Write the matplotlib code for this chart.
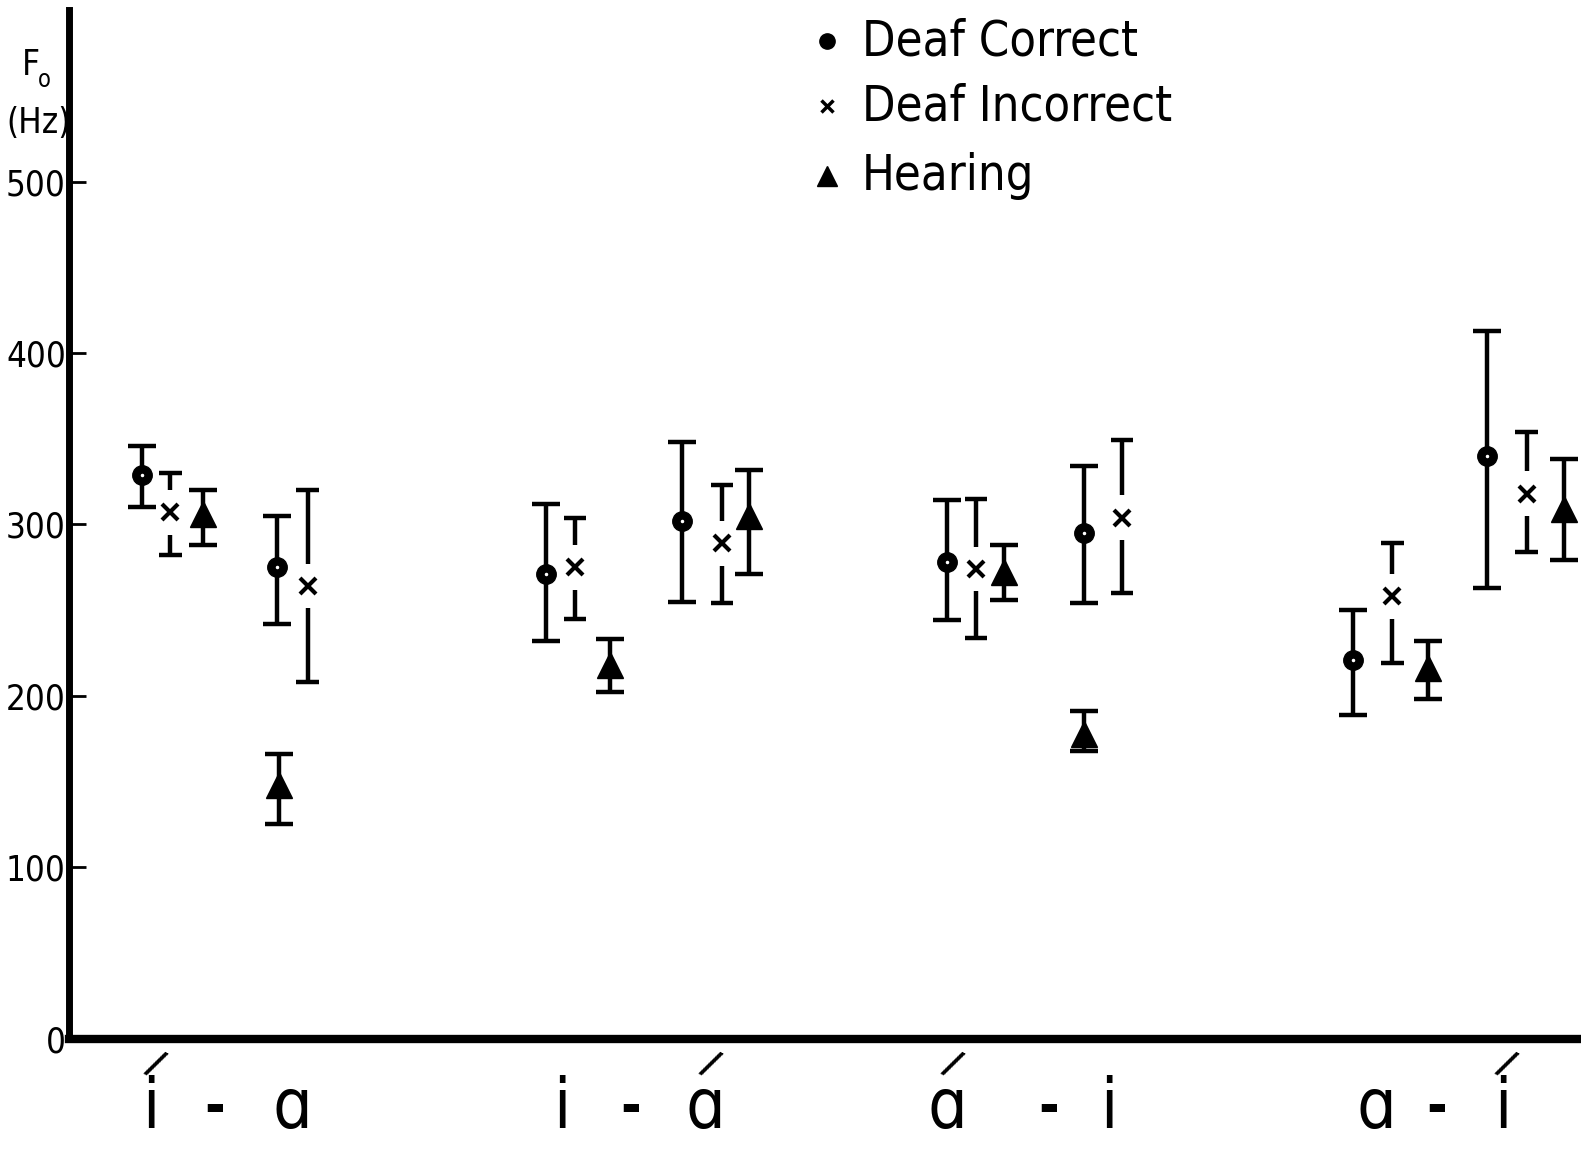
import numpy as np
import matplotlib
matplotlib.use('Agg')
import matplotlib.pyplot as plt

# F0 (Hz) per condition: 4 stress patterns x 2 vowels, three groups each
groups = ['Deaf Correct', 'Deaf Incorrect', 'Hearing']
conditions = ['í - ɑ', 'i - ɑ́', 'ɑ́ - i', 'ɑ - í']

# means, upper and lower bar ends, order: [cond1 v1, cond1 v2, cond2 v1, ...]
dc_mean = [329, 275, 271, 302, 278, 295, 221, 340]
dc_hi   = [346, 305, 312, 348, 314, 334, 250, 413]
dc_lo   = [310, 242, 232, 255, 244, 254, 189, 263]

di_mean = [307, 264, 275, 289, 274, 304, 258, 318]
di_hi   = [330, 320, 304, 323, 315, 349, 289, 354]
di_lo   = [282, 208, 245, 254, 234, 260, 219, 284]

h_mean = [306, 148, 218, 305, 272, 178, 216, 309]
h_hi   = [320, 166, 233, 332, 288, 191, 232, 338]
h_lo   = [288, 125, 202, 271, 256, 168, 198, 279]

# horizontal placement (layout only)
dc_x = [141, 275, 541, 676, 939, 1075, 1342, 1475]
di_x = [169, 305, 570, 716, 968, 1113, 1381, 1514]
h_x  = [201, 277, 605, 743, 996, 1075, 1416, 1551]

fam = ['DejaVu Sans']
plt.rcParams['font.family'] = fam
plt.rcParams['font.stretch'] = 'condensed'

fig = plt.figure(figsize=(15.81, 11.49), dpi=100)
ax = fig.add_axes([0.0434, 0.0961, 0.9566, 0.895])
ax.set_xlim(68, 1568)
ax.set_ylim(0, 600)

lw = 3.2
cap = 10

def bars(xs, mean, hi, lo, gap=0.0):
    for x, m, h, l in zip(xs, mean, hi, lo):
        if gap > 0:
            ax.vlines(x, l, m - gap, color='black', lw=lw)
            ax.vlines(x, m + gap, h, color='black', lw=lw)
            ax.plot([x - 11, x + 11], [l, l], color='black', lw=lw, solid_capstyle='butt')
            ax.plot([x - 11, x + 11], [h, h], color='black', lw=lw, solid_capstyle='butt')
        else:
            ax.errorbar(x, m, yerr=[[m - l], [h - m]], fmt='none', ecolor='black',
                        elinewidth=lw, capsize=cap, capthick=lw)

bars(dc_x, dc_mean, dc_hi, dc_lo)
ax.plot(dc_x, dc_mean, 'o', color='black', markersize=14, zorder=3, linestyle='none')
ax.plot(dc_x, dc_mean, '.', color='white', markersize=3, zorder=4, linestyle='none')

bars(di_x, di_mean, di_hi, di_lo, gap=13)
ax.plot(di_x, di_mean, 'x', color='black', markersize=11, markeredgewidth=3, zorder=3,
        linestyle='none')

bars(h_x, h_mean, h_hi, h_lo)
ax.plot(h_x, h_mean, '^', color='black', markersize=19, zorder=3, linestyle='none')

# axes styling
for s in ['top', 'right']:
    ax.spines[s].set_visible(False)
ax.spines['left'].set_linewidth(5)
ax.spines['bottom'].set_linewidth(6)
ax.set_yticks([0, 100, 200, 300, 400, 500])
ax.set_yticklabels(['0', '100', '200', '300', '400', '500'])
ax.tick_params(axis='y', direction='in', length=12, width=2, labelsize=25, pad=2)
ax.set_xticks([])

# y axis title
fig.text(0.014, 0.943, 'F', fontsize=25, ha='left', va='center')
fig.text(0.024, 0.930, 'o', fontsize=17, ha='left', va='center')
fig.text(0.004, 0.893, '(Hz)', fontsize=25, ha='left', va='center')

# legend drawn by hand
leg_y = [582, 544, 503]
ax.plot([820], [leg_y[0]], 'o', color='black', markersize=11, clip_on=False)
ax.plot([820], [leg_y[1]], 'x', color='black', markersize=9, markeredgewidth=2.5, clip_on=False)
ax.plot([820], [leg_y[2]], '^', color='black', markersize=15, clip_on=False)
for y, name in zip(leg_y, groups):
    ax.text(855, y, name, fontsize=35, ha='left', va='center')

# condition labels under the axis
label_parts = [('i', 150, '-', 213, 'ɑ', 290, 0),
               ('i', 557, '-', 625, 'ɑ', 700, 2),
               ('ɑ', 940, '-', 1040, 'i', 1100, 0),
               ('ɑ', 1365, '-', 1425, 'i', 1490, 2)]
for a, xa, d, xd, b, xb, acc in label_parts:
    ax.text(xa, -41, a, fontsize=50, ha='center', va='center', clip_on=False)
    ax.text(xd, -41, d, fontsize=40, ha='center', va='center', clip_on=False,
            fontweight='bold')
    ax.text(xb, -41, b, fontsize=50, ha='center', va='center', clip_on=False)
    xacc = xa if acc == 0 else xb
    ax.text(xacc + 4, -15, '/', fontsize=26, ha='center', va='center', clip_on=False,
            rotation=-28, fontweight='bold', fontstretch='normal')

fig.savefig('out.png', dpi=100)
